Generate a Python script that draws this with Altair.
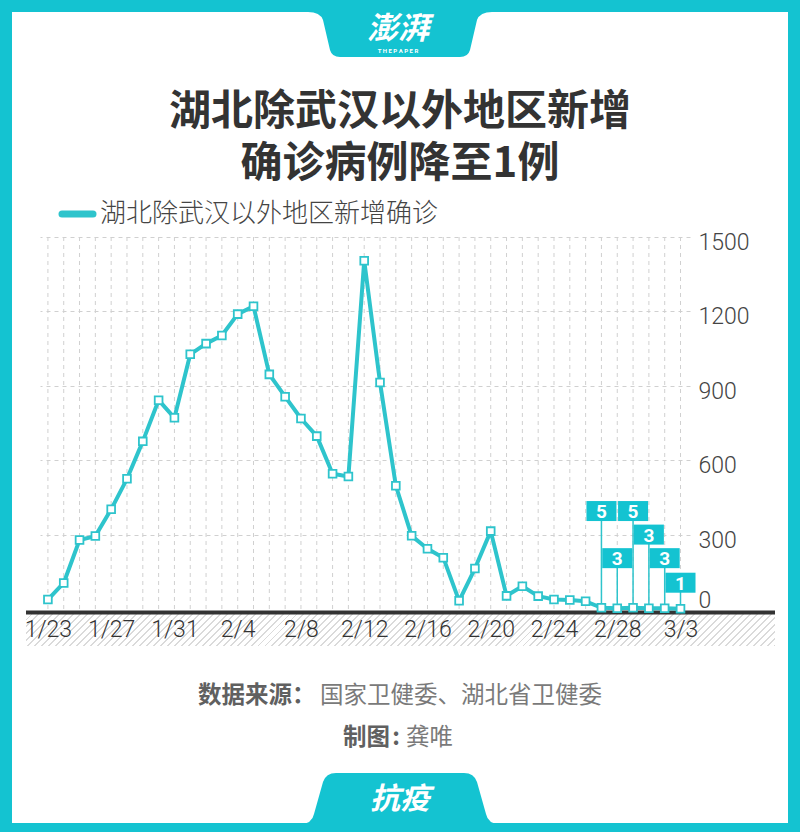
import json
import altair as alt
import pandas as pd

# ---------------- data ----------------
dates = [f"{d.month}/{d.day}" for d in pd.date_range("2020-01-23", "2020-03-03")]
new_cases = [38, 105, 278, 294, 402, 525, 676, 842, 771,
             1027, 1070, 1103, 1189, 1221, 946, 856, 768, 697, 545, 534,
             1404, 913, 497, 295, 243, 207, 33, 163, 314, 53, 92, 52, 38,
             36, 31, 5, 3, 5, 3, 3, 1]
tick_labels = ["1/23", "1/27", "1/31", "2/4", "2/8", "2/12", "2/16",
               "2/20", "2/24", "2/28", "3/3"]
y_ticks = [0, 300, 600, 900, 1200, 1500]
callout_dates = ["2/27", "2/28", "2/29", "3/1", "3/2", "3/3"]
callout_values = [5, 3, 5, 3, 3, 1]
callout_levels = [395, 205, 395, 300, 205, 106]

series_name = "湖北除武汉以外地区新增确诊"
title_lines = ["湖北除武汉以外地区新增", "确诊病例降至1例"]

# ---------------- styles ----------------
TEAL = "#14C3D1"
LINE = "#2EC4CC"
GRID = "#d0d0d0"
CJK = "Noto Sans CJK SC"
NUM = "Roboto"
L, T = 40, 237          # plot origin in page pixels
W, H = 650, 372         # plot size

df = pd.DataFrame({"idx": list(range(len(dates))), "date": dates, "value": new_cases})
cd = pd.DataFrame({
    "idx": [dates.index(d) for d in callout_dates],
    "value": callout_values,
    "level": callout_levels,
    "label": [str(v) for v in callout_values],
})
one = pd.DataFrame({"a": [0]})

dates_js = json.dumps(dates)
ticks_js = json.dumps(tick_labels)
label_expr = f"indexof({ticks_js}, {dates_js}[datum.value]) >= 0 ? {dates_js}[datum.value] : ''"

x_scale = alt.Scale(domain=[-0.5, 40.6], nice=False, zero=False)
y_scale = alt.Scale(domain=[0, 1500], nice=False, zero=True)

x_axis = alt.Axis(values=list(range(len(dates))), labelExpr=label_expr,
                  labelOverlap=False, labelFlush=False, labelBound=False,
                  grid=False, ticks=False, domain=False, zindex=1,
                  labelFont=NUM, labelFontWeight=300,
                  labelFontSize=23, labelColor="#333333", labelPadding=9, title=None)
y_axis = alt.Axis(orient="right", values=y_ticks, format="d", grid=True, gridDash=[4, 4],
                  gridColor=GRID, gridWidth=1,
                  gridOpacity={"condition": {"test": "datum.value == 0", "value": 0}, "value": 1},
                  ticks=False, domain=False, labelFont=NUM, labelFontWeight=300,
                  labelFontSize=23, labelColor="#444444", labelAlign="left",
                  labelBaseline="middle", labelPadding=8,
                  labelOffset={"condition": {"test": "datum.value == 0", "value": -9}, "value": 5.5},
                  title=None)


def X(field):
    return alt.X(field, scale=x_scale, axis=x_axis)


def Y(field):
    return alt.Y(field, scale=y_scale, axis=y_axis)


def px(x):
    return x - L


def py(y):
    return y - T


def rect(x0, x1, y0, y1, fill):
    return alt.Chart(one).mark_rect(fill=fill, strokeWidth=0).encode(
        x=alt.value(px(x0)), x2=alt.value(px(x1)), y=alt.value(py(y0)), y2=alt.value(py(y1)))


def shape(path, cx, cy, fill):
    return alt.Chart(one).mark_point(shape=path, size=4, filled=True, fill=fill,
                                     strokeWidth=0, opacity=1).encode(
        x=alt.value(px(cx)), y=alt.value(py(cy)))


def txt(s, x, y, size, color, weight="normal", align="center", font=CJK, style="normal",
        line_height=None):
    kw = {}
    if line_height is not None:
        kw["lineHeight"] = line_height
    return alt.Chart(one).mark_text(text=s, fontSize=size, color=color, fontWeight=weight,
                                    align=align, baseline="middle", font=font,
                                    fontStyle=style, **kw).encode(
        x=alt.value(px(x)), y=alt.value(py(y)))


# hatched band under the baseline (diagonal stripes via gradient)
hx0, hx1, hy0, hy1 = 26, 775, 614, 646
bw, bh = hx1 - hx0, hy1 - hy0
span = bw + bh
s = span * bw / (bw * bw + bh * bh)
n_stripes = round(span / 7)
stops = []
for k in range(n_stripes):
    a = k / n_stripes
    b = (k + 0.72) / n_stripes
    c = min((k + 1) / n_stripes, 1.0)
    stops += [{"color": "#ffffff", "offset": a}, {"color": "#ffffff", "offset": b},
              {"color": "#dadada", "offset": b}, {"color": "#dadada", "offset": c}]
hatch_fill = {"gradient": "linear", "x1": 0, "y1": 0, "x2": s,
              "y2": s * bh / bw, "stops": stops}
hatch = alt.Chart(one).mark_rect(fill=hatch_fill, strokeWidth=0).encode(
    x=alt.value(px(hx0)), x2=alt.value(px(hx1)), y=alt.value(py(hy0)), y2=alt.value(py(hy1)))

baseline = alt.Chart(one).mark_rule(color="#333333", strokeWidth=4).encode(
    x=alt.value(px(26)), x2=alt.value(px(775)), y=alt.value(py(612.5)))

# vertical dashed day grid (one per date, placed by the x scale)
vgrid = alt.Chart(df).mark_rule(color=GRID, strokeWidth=1, strokeDash=[4, 4]).encode(
    x=X("idx:Q"), y=alt.value(0), y2=alt.value(H))

base = alt.Chart(df).encode(x=X("idx:Q"), y=Y("value:Q"))
line = base.mark_line(color=LINE, strokeWidth=4, strokeJoin="round")
points = base.mark_point(shape="square", filled=True, fill="white", stroke=LINE,
                         strokeWidth=1.8, size=60, opacity=1)

cbase = alt.Chart(cd).encode(x=X("idx:Q"))
connectors = cbase.mark_rule(color=LINE, strokeWidth=1.5).encode(
    y=Y("value:Q"), y2="level:Q")
boxes = cbase.mark_point(shape="M -15 -10 H 15 V 10 H -15 Z", size=4, filled=True,
                         fill=TEAL, strokeWidth=0, opacity=1).encode(y=Y("level:Q"))
box_text = cbase.mark_text(color="white", fontSize=19, fontWeight="bold", font=NUM,
                           baseline="middle", dy=1).encode(y=Y("level:Q"), text="label:N")

# legend
legend_line = alt.Chart(one).mark_rule(color=LINE, strokeWidth=7, strokeCap="round").encode(
    x=alt.value(px(62)), x2=alt.value(px(93)), y=alt.value(py(214)))
legend_text = txt(series_name, 100, 214, 26, "#444444", weight=300, align="left")

# frame and tabs
frame = [
    rect(0, 12, 0, 832, TEAL),
    rect(788, 800, 0, 832, TEAL),
    rect(0, 800, 0, 12, TEAL),
    rect(0, 800, 823, 832, TEAL),
]
top_tab = shape("M -92 -30 L 92 -30 L 92 -18 Q 80 -18 77 -10 L 70 20 Q 68 27 60 27 "
                "L -60 27 Q -68 27 -70 20 L -77 -10 Q -80 -18 -92 -18 Z", 400, 30, TEAL)
bottom_tab = shape("M -100 26 Q -88 26 -86 16 L -77 -16 Q -74 -25 -64 -25 L 64 -25 "
                   "Q 74 -25 77 -16 L 86 16 Q 88 26 100 26 Z", 400, 798, TEAL)

texts = [
    txt("澎湃", 398, 30, 31, "white", weight="bold", style="italic"),
    txt("T H E   P A P E R", 398, 51, 6, "white", weight="bold", font=NUM),
    txt(title_lines, 400, 112, 42, "#333333", weight="bold", line_height=52),
    txt("数据来源：", 198, 696, 23.5, "#606060", weight="bold", align="left"),
    txt("国家卫健委、湖北省卫健委", 320, 696, 23.5, "#7a7a7a", align="left"),
    txt("制图", 343, 738, 23.5, "#606060", weight="bold", align="left"),
    txt(":", 396, 738, 23.5, "#606060", weight="bold"),
    txt("龚唯", 406, 738, 23.5, "#7a7a7a", align="left"),
    txt("抗疫", 400, 800, 30, "white", weight="bold", style="italic"),
]

chart = alt.layer(
    vgrid, hatch, baseline, connectors, line, points, boxes, box_text,
    legend_line, legend_text, *frame, top_tab, bottom_tab, *texts,
).properties(
    width=W, height=H,
    padding={"left": L, "top": T, "right": 800 - L - W, "bottom": 832 - T - H},
    autosize=alt.AutoSizeParams(type="none"),
    background="white",
).configure_view(stroke=None)

chart.save("out.html", embed_options={"renderer": "svg", "actions": False})
